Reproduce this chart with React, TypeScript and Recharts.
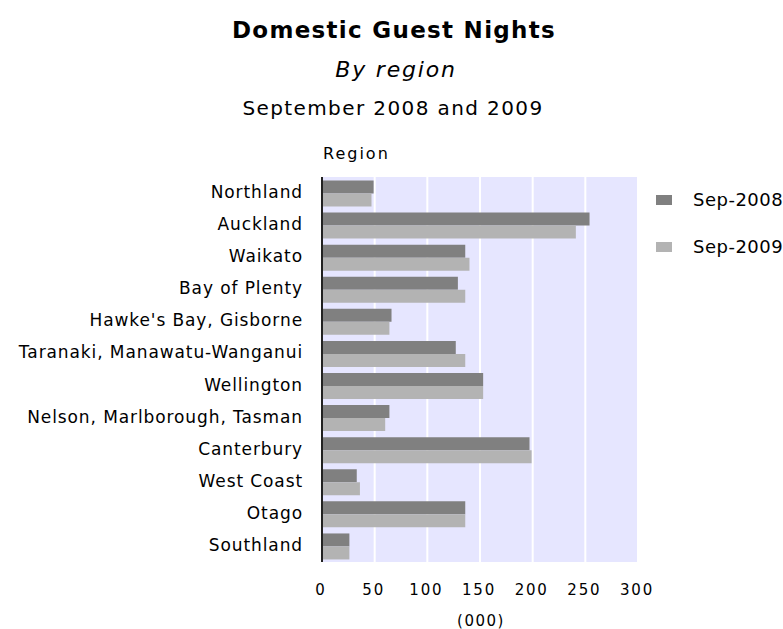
import React from "react";
import { BarChart, Bar, XAxis, YAxis, CartesianGrid, Legend } from "recharts";

const regions = [
  "Northland",
  "Auckland",
  "Waikato",
  "Bay of Plenty",
  "Hawke's Bay, Gisborne",
  "Taranaki, Manawatu-Wanganui",
  "Wellington",
  "Nelson, Marlborough, Tasman",
  "Canterbury",
  "West Coast",
  "Otago",
  "Southland",
];
const sep2008 = [49, 254, 136, 129, 66, 127, 153, 64, 197, 33, 136, 26];
const sep2009 = [47, 241, 140, 136, 64, 136, 153, 60, 199, 36, 136, 26];
const xTicks = [0, 50, 100, 150, 200, 250, 300];
const seriesNames = ["Sep-2008", "Sep-2009"];
const seriesColors = ["#808080", "#b3b3b3"];

const data = regions.map((r, i) => ({ name: r, s2008: sep2008[i], s2009: sep2009[i] }));

const FONT = "'DejaVu Sans', sans-serif";

const YTick = (props: any) => {
  const { x, y, payload } = props;
  return (
    <text x={x} y={y} dy={5} textAnchor="end" fontFamily={FONT} fontSize={17} fill="#000" letterSpacing={0.9}>
      {payload.value}
    </text>
  );
};

const XTick = (props: any) => {
  const { x, y, payload } = props;
  return (
    <text x={x - 1} y={y} dy={13} textAnchor="middle" fontFamily={FONT} fontSize={15} fill="#000" letterSpacing={1.8}>
      {payload.value}
    </text>
  );
};

const LegendContent = (props: any) => {
  const { payload } = props;
  return (
    <div>
      {(payload || []).map((p: any, i: number) => (
        <div key={i} style={{ display: "flex", alignItems: "center", height: 47, fontFamily: FONT, fontSize: 18, letterSpacing: 0.5 }}>
          <svg width={37} height={10} style={{ flex: "none" }}>
            <rect x={0} y={0} width={16} height={10} fill={p.color} />
          </svg>
          <span>{p.value}</span>
        </div>
      ))}
    </div>
  );
};

export default function App() {
  return (
    <div style={{ position: "absolute", left: 0, top: 0, width: 783, height: 629, background: "#fff", overflow: "hidden" }}>
      <BarChart
        width={783}
        height={629}
        data={data}
        layout="vertical"
        margin={{ top: 177, right: 145, bottom: 37, left: 0 }}
        barCategoryGap="11%"
        barGap={0}
      >
        <CartesianGrid horizontal={false} vertical={true} stroke="#ffffff" strokeWidth={2} fill="#e6e6ff" />
        <XAxis
          type="number"
          domain={[0, 300]}
          ticks={xTicks}
          axisLine={false}
          tickLine={false}
          tick={<XTick />}
          height={30}
          tickMargin={14}
          interval={0}
        />
        <YAxis
          type="category"
          dataKey="name"
          width={322}
          axisLine={{ stroke: "#222", strokeWidth: 2 }}
          tickLine={false}
          tickSize={0}
          tickMargin={19}
          tick={<YTick />}
          interval={0}
        />
        <Legend
          layout="horizontal"
          verticalAlign="middle"
          align="center"
          wrapperStyle={{ position: "absolute", left: 656, top: 176, width: 130 }}
          content={<LegendContent />}
        />
        <Bar dataKey="s2008" name={seriesNames[0]} fill={seriesColors[0]} isAnimationActive={false} />
        <Bar dataKey="s2009" name={seriesNames[1]} fill={seriesColors[1]} isAnimationActive={false} />
      </BarChart>
      <svg width={783} height={629} style={{ position: "absolute", left: 0, top: 0, pointerEvents: "none" }}>
        <text x={394} y={37.5} textAnchor="middle" fontFamily={FONT} fontWeight="bold" fontSize={23} letterSpacing={1.3}>
          Domestic Guest Nights
        </text>
        <text x={396} y={76.5} textAnchor="middle" fontFamily={FONT} fontStyle="italic" fontSize={22} letterSpacing={1.8}>
          By region
        </text>
        <text x={393} y={114.5} textAnchor="middle" fontFamily={FONT} fontSize={20} letterSpacing={1.4}>
          September 2008 and 2009
        </text>
        <text x={323} y={159} textAnchor="start" fontFamily={FONT} fontSize={16} letterSpacing={2}>
          Region
        </text>
        <text x={481} y={626} textAnchor="middle" fontFamily={FONT} fontSize={15} letterSpacing={1.5}>
          (000)
        </text>
      </svg>
    </div>
  );
}
